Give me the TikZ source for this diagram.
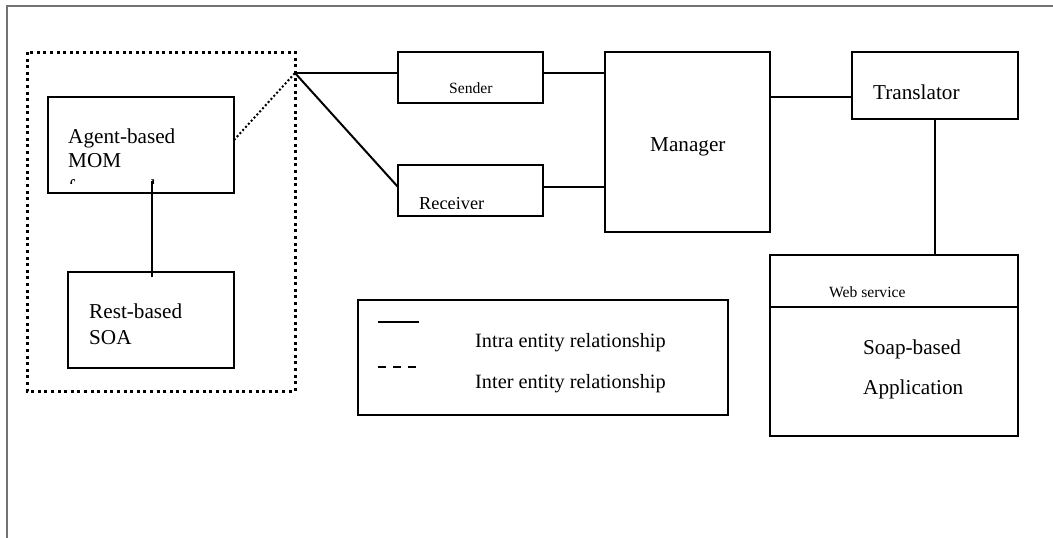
\documentclass[tikz,border=0pt]{standalone}
\usepackage{fontspec}
\setmainfont{Liberation Serif}
\begin{document}
\begin{tikzpicture}[x=1pt,y=-1pt,
  box/.style={draw=black,line width=2pt,inner sep=0pt,outer sep=0pt,anchor=north west},
  lbl/.style={anchor=base west,inner sep=0pt,font=\fontsize{21.2}{25}\selectfont},
  small/.style={anchor=base west,inner sep=0pt,font=\fontsize{15.6}{18}\selectfont},
  conn/.style={draw=black,line width=2pt},
  groupline/.style={draw=black,line width=3pt,dash pattern=on 3pt off 3.6pt},
  fineDots/.style={draw=black,line width=2pt,dash pattern=on 2pt off 2.2pt}]
\useasboundingbox (0,0) rectangle (1053,538);
% outer frame
\draw[draw=gray!90!black,line width=2pt] (7,538) -- (7,6) -- (1053,6);
% boxes
\node[box,minimum width=186pt,minimum height=96pt] (agent) at (48,97) {};
\node[box,minimum width=166pt,minimum height=96pt] (rest) at (68,272) {};
\node[box,minimum width=145pt,minimum height=51pt] (sender) at (398,52) {};
\node[box,minimum width=145pt,minimum height=51pt] (receiver) at (398,165) {};
\node[box,minimum width=165pt,minimum height=180pt] (manager) at (605,52) {};
\node[box,minimum width=166pt,minimum height=67pt] (translator) at (852,52) {};
\node[box,minimum width=248pt,minimum height=181pt] (web) at (770,255) {};
\node[box,minimum width=370pt,minimum height=115pt] (legend) at (358,300) {};
\coordinate (wsl) at (770,307);
\coordinate (wsr) at (1018,307);
\draw[conn] (wsl) -- (wsr);
% dotted group
\draw[groupline] (27,52) rectangle (295,391);
\coordinate (hub) at (295,73);
% texts
\node[lbl] (t1) at (68,143) {Agent-based};
\node[lbl] (t2) at (68,167.5) {MOM};
\begin{scope}
\clip (50,172) rectangle (232,183.5);
\node[lbl] (t3) at (68,194) {framework};
\end{scope}
\node[lbl] (t4) at (89,318) {Rest-based};
\node[lbl] (t5) at (89,344) {SOA};
\node[small] (t6) at (449,93) {Sender};
\begin{scope}
\clip (400,180) rectangle (541,208.5);
\node[anchor=base west,inner sep=0pt,font=\fontsize{18.3}{22}\selectfont] (t7) at (419,209.5) {Receiver};
\end{scope}
\node[lbl] (t8) at (650,151) {Manager};
\node[lbl] (t9) at (873,99) {Translator};
\node[small] (t10) at (829,297) {Web service};
\node[lbl] (t11) at (863,354) {Soap-based};
\node[lbl] (t12) at (863,394) {Application};
\node[lbl,font=\fontsize{20.3}{24}\selectfont] (t13) at (475,347) {Intra entity relationship};
\node[lbl,font=\fontsize{20.3}{24}\selectfont] (t14) at (475,388) {Inter entity relationship};
% legend samples
\coordinate (s1a) at (378,322);
\coordinate (s1b) at (419,322);
\coordinate (s2a) at (378,367);
\coordinate (s2b) at (416,367);
\draw[conn] (s1a) -- (s1b);
\draw[draw=black,line width=2pt,dash pattern=on 8pt off 7pt] (s2a) -- (s2b);
% connectors
\draw[conn] (hub) -- ([yshift=4.5pt]sender.west);
\draw[conn] (hub) -- ([yshift=3.5pt]receiver.west);
\draw[conn] ([yshift=4.5pt]sender.east) -- ([yshift=4.5pt]sender.east -| manager.west);
\draw[conn] ([yshift=3.5pt]receiver.east) -- ([yshift=3.5pt]receiver.east -| manager.west);
\draw[conn] ([yshift=-11.5pt]translator.west) -- ([yshift=-11.5pt]translator.west -| manager.east);
\draw[conn] (translator.south) -- (translator.south |- web.north);
\draw[conn] ([xshift=1pt,yshift=-5pt]rest.north) -- ([xshift=1pt,yshift=12pt]rest.north |- agent.south);
\draw[fineDots] ([yshift=5pt]agent.east) -- (hub);
\end{tikzpicture}
\end{document}
